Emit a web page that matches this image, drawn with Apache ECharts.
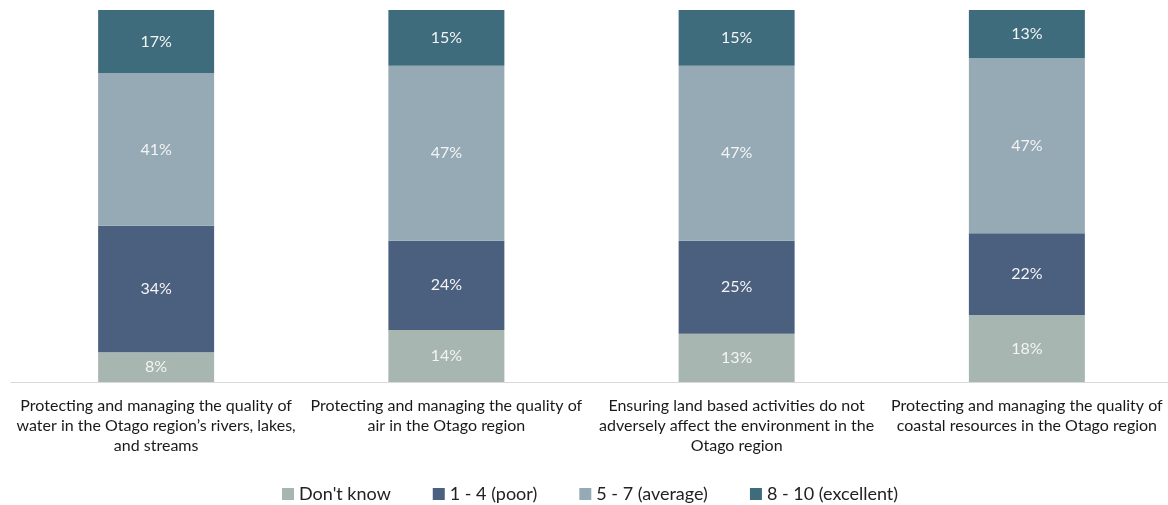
<!DOCTYPE html>
<html>
<head>
<meta charset="utf-8">
<script src="https://cdn.jsdelivr.net/npm/echarts@6/dist/echarts.min.js"></script>
<style>
  html, body { margin: 0; padding: 0; background: #fff; overflow: hidden; }
  #chartBox { width: 1172px; height: 505px; }
</style>
</head>
<body>
<div id="chartBox"></div>
<script>
  // categories (axis labels, wrapped the same way as the picture)
  var categories = [
    'Protecting and managing the quality of\nwater in the Otago region\u2019s rivers, lakes,\nand streams',
    'Protecting and managing the quality of\nair in the Otago region',
    'Ensuring land based activities do not\nadversely affect the environment in the\nOtago region',
    'Protecting and managing the quality of\ncoastal resources in the Otago region'
  ];
  var dontKnow  = [8, 14, 13, 18];
  var poor      = [34, 24, 25, 22];
  var average   = [41, 47, 47, 47];
  var excellent = [17, 15, 15, 13];

  var seriesNames = ["Don't know", '1 - 4 (poor)', '5 - 7 (average)', '8 - 10 (excellent)'];
  var colors = ['#a7b6b1', '#4a607e', '#96aab6', '#3e6c7d'];

  var chart = echarts.init(document.getElementById('chartBox'));
  var font = 'Lato';

  function mkSeries(name, data, color) {
    return {
      name: name,
      type: 'bar',
      stack: 'total',
      barWidth: 116,
      data: data,
      itemStyle: { color: color },
      label: {
        show: true,
        position: 'inside',
        formatter: '{c}%',
        color: '#f4f4f4',
        fontFamily: font,
        fontSize: 16
      }
    };
  }

  chart.setOption({
    animation: false,
    color: colors,
    grid: { left: 11, right: 0, top: 10, bottom: 123, containLabel: false },
    legend: {
      left: 277,
      top: 480,
      itemWidth: 12,
      itemHeight: 12,
      itemGap: 42,
      icon: 'rect',
      textStyle: { fontFamily: font, fontSize: 18, color: '#222' },
      data: seriesNames
    },
    xAxis: {
      type: 'category',
      data: categories,
      axisLine: { lineStyle: { color: '#d9d9d9', width: 1 } },
      axisTick: { show: false },
      axisLabel: {
        interval: 0,
        margin: 14,
        fontFamily: font,
        fontSize: 16,
        lineHeight: 20,
        color: '#1a1a1a',
        align: 'center'
      }
    },
    yAxis: {
      type: 'value',
      min: 0,
      max: 100,
      show: false
    },
    series: [
      mkSeries(seriesNames[0], dontKnow, colors[0]),
      mkSeries(seriesNames[1], poor, colors[1]),
      mkSeries(seriesNames[2], average, colors[2]),
      mkSeries(seriesNames[3], excellent, colors[3])
    ]
  });
</script>
</body>
</html>
